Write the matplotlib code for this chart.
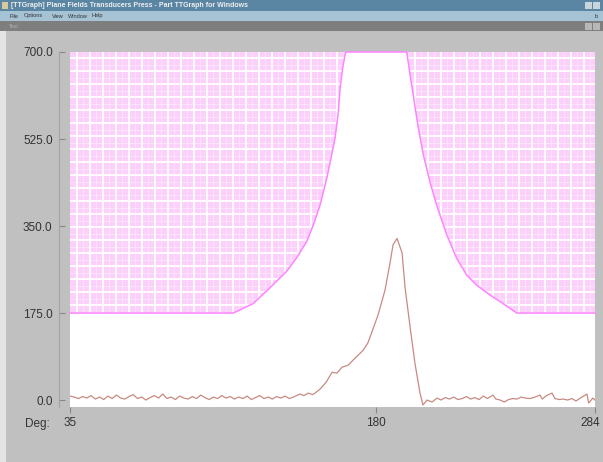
import numpy as np
import matplotlib
matplotlib.use("Agg")
import matplotlib.pyplot as plt
from matplotlib.patches import Rectangle
from matplotlib.transforms import ScaledTranslation

plt.rcParams['font.family'] = ['Liberation Sans', 'DejaVu Sans']

# limit mask (deg, value)
mask_deg = [35, 112.5, 121.9, 129.9, 137.8, 142.5, 147.3, 150.4, 153.6, 156.8, 159.1,
            160.7, 162.3, 163.1, 164.3, 165.4, 165.9, 194.7, 196.3, 197.8, 200.2,
            202.6, 205.7, 208.9, 213.7, 218.4, 223.2, 227.9, 234.2, 239.0, 246.9, 284]
mask_val = [175, 175, 194, 226, 259, 286, 319, 352, 392, 446, 493,
            527, 580, 627, 667, 694, 700, 700, 654, 613, 547,
            493, 439, 392, 332, 285, 251, 231, 211, 198, 175, 175]

# measured trace
sig_deg = [35, 37, 39, 41, 43, 45, 47, 49, 51, 53, 55, 57, 59, 61, 63, 65, 67, 69,
           71, 73, 75, 77, 79, 81, 83, 85, 87, 89, 91, 93, 95, 97, 99, 101, 103,
           105, 107, 109, 111, 113, 115, 117, 119, 121, 123, 125, 127, 129, 131,
           133, 135, 137, 139, 141, 143, 144.1, 146, 148, 150, 151.2, 153.6, 156.5,
           159.3, 161.6, 164.0, 166.9, 169.2, 171.6, 174.0, 176.3, 178.2, 181.1,
           184.4, 186.8, 188.2, 190.1, 192.5, 193.9, 196.3, 198.6, 201.0, 202.4,
           204.3, 206.7, 209.1, 211, 213, 215, 217, 219, 221, 223, 225, 227, 229,
           231, 233, 235.6, 237, 239, 241, 243, 245, 247, 249, 251, 253, 255,
           257.9, 259, 261, 263.6, 265, 267, 269, 271, 273, 275, 277, 280.2, 281,
           283, 284]
sig_val = [8, 6, 3, 7, 4, 9, 2, 6, 1, 8, 3, 10, 4, 2, 7, 11, 3, 6,
           0, 5, 9, 4, 12, 3, 6, 1, 8, 4, 2, 7, 3, 10, 5, 1, 6,
           3, 9, 4, 7, 2, 6, 3, 8, 1, 5, 9, 3, 6, 2,
           7, 4, 8, 3, 6, 10, 12, 9, 14, 11, 14, 22, 36,
           56, 54, 66, 70, 80, 90, 100, 115, 137, 171,
           221, 276, 312, 325, 296, 227, 147, 74, 14, -10,
           0, -4, 4, 0, 5, 2, 6, 1, 3, 7, 2, 5, 1,
           8, 3, 10, 2, 0, -4, 1, 3, 2, 6, 4, 3, 5,
           10, 2, 9, 14, 3, 1, 2, 0, 3, -2, 4, 12, -6,
           4, 0]

y_ticks = [0, 175, 350, 525, 700]
y_labels = ['0.0', '175.0', '350.0', '525.0', '700.0']
x_ticks = [35, 180, 284]
x_labels = ['35', '180', '284']

W, H = 603, 462


def fx(px):
    return px / W


def fy(py):
    return 1 - py / H


fig = plt.figure(figsize=(W / 100, H / 100), dpi=100, facecolor='#c0c0c0')

# window chrome
def band(x0, y0, x1, y1, color):
    fig.add_artist(Rectangle((fx(x0), fy(y1)), fx(x1) - fx(x0), fy(y0) - fy(y1),
                             transform=fig.transFigure, facecolor=color,
                             edgecolor='none', zorder=0))

band(0, 0, W, 11, '#5a86a4')
band(0, 11, W, 21, '#a6c3d6')
band(0, 21, W, 31, '#7e7e7e')
band(0, 31, 6, H, '#e4e4e4')
band(2, 2, 8, 9, '#d8c8a0')
for bx in (585, 593):
    band(bx, 2, bx + 7, 9, '#c8d4dc')
    band(bx, 23, bx + 7, 30, '#b8b8b8')
fig.text(fx(11), fy(5.5), '[TTGraph] Plane Fields Transducers Press - Part TTGraph for Windows',
         fontsize=5, color='#f0f0f0', va='center', fontweight='bold')
for lx, item in [(9, 'File'), (24, 'Options'), (52, 'View'), (68, 'Window'), (92, 'Help')]:
    fig.text(fx(lx), fy(16), item, fontsize=4, color='#303030', va='center')
fig.text(fx(598), fy(16), 'b', fontsize=4, color='#303030', va='center', ha='right')
fig.text(fx(9), fy(26), 'Test', fontsize=4, color='#b0b0b0', va='center')

ax = fig.add_axes([fx(70), fy(407), fx(595) - fx(70), fy(52) - fy(407)])
ax.set_facecolor('white')
ax.set_xlim(35, 284)
ax.set_ylim(-14, 700)

# hatched region above the mask
fill = ax.fill_between(mask_deg, mask_val, 700, facecolor='#fbd0fb', edgecolor='none', zorder=1)
clip = fill.get_paths()[0]
dx = 13 * 249 / 525
dy = 13 * 714 / 355
for gx in np.arange(35 + dx / 2, 284, dx):
    ln = ax.axvline(gx, color='white', lw=1.3, zorder=2)
    ln.set_clip_path(clip, ax.transData)
    ln2 = ax.axvline(gx + dx / 2, color='white', lw=0.8, alpha=0.35, zorder=2)
    ln2.set_clip_path(clip, ax.transData)
for gy in np.arange(700 - dy / 2, 0, -dy):
    ln = ax.axhline(gy, color='white', lw=1.3, zorder=2)
    ln.set_clip_path(clip, ax.transData)
    ln2 = ax.axhline(gy - dy / 2, color='white', lw=0.8, alpha=0.35, zorder=2)
    ln2.set_clip_path(clip, ax.transData)

ax.plot(mask_deg, mask_val, color='#ff84ff', lw=1.1, zorder=3, clip_on=False)
ax.plot(sig_deg, sig_val, color='#c88a82', lw=0.9, zorder=4)

for side in ('top', 'right', 'bottom'):
    ax.spines[side].set_visible(False)
ax.spines['left'].set_position(('outward', 8))
ax.spines['left'].set_color('#a4a4a4')
ax.spines['left'].set_linewidth(0.8)

ax.set_yticks(y_ticks)
ax.set_yticklabels(y_labels)
ax.set_xticks(x_ticks)
ax.set_xticklabels(x_labels)
ax.tick_params(axis='y', direction='in', length=4.5, width=0.8, color='#888888',
               pad=4.5, labelsize=8.5, labelcolor='#333333')
ax.tick_params(axis='x', direction='out', length=4.5, width=0.8, color='#888888',
               pad=3, labelsize=8.5, labelcolor='#333333')
last = ax.get_xticklabels()[-1]
last.set_transform(last.get_transform() + ScaledTranslation(-5 / 100, 0, fig.dpi_scale_trans))
fig.text(fx(50), fy(424), 'Deg:', fontsize=8.5, color='#333333', ha='right', va='center')

fig.savefig('out.png', dpi=100, facecolor=fig.get_facecolor())
